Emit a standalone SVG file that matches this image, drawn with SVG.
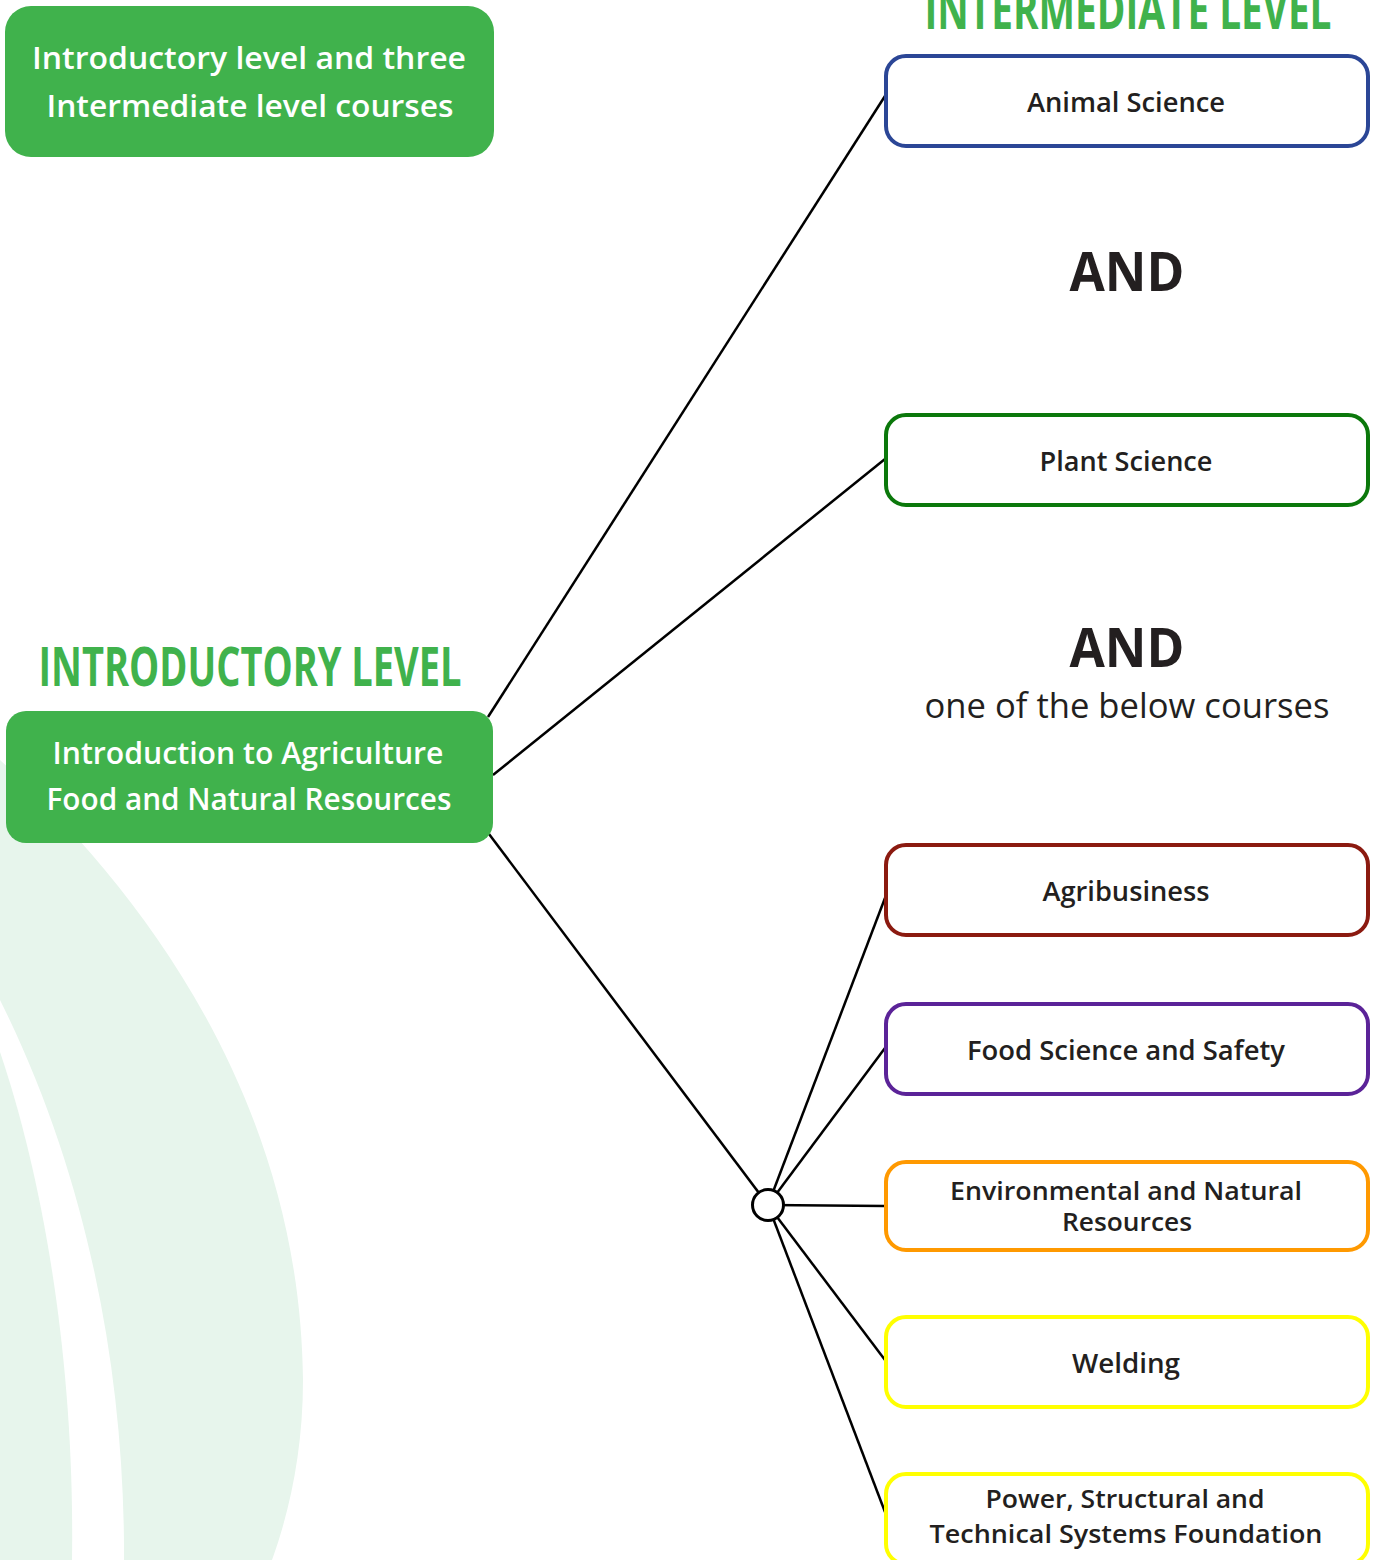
<svg xmlns="http://www.w3.org/2000/svg" width="1376" height="1560" viewBox="0 0 1376 1560">
  <style>
    .bg { fill: #e7f5ec; }
    .gbox { fill: #40b24c; }
    .wtxt { font-family: "Open Sans", "Noto Sans", sans-serif; font-weight: 600; fill: #ffffff; text-anchor: middle; }
    .head { font-family: "Open Sans", "Noto Sans", sans-serif; font-weight: 700; fill: #40b24c; text-anchor: middle; font-size: 54px; }
    .cbox { fill: #ffffff; stroke-width: 4; }
    .lbl { font-family: "Open Sans", "Noto Sans", sans-serif; font-weight: 600; fill: #231f20; text-anchor: middle; font-size: 27px; }
    .lbl2 { font-size: 25px; }
    .and { font-family: "Open Sans", "Noto Sans", sans-serif; font-weight: 700; fill: #231f20; text-anchor: middle; font-size: 54px; }
    .sub { font-family: "Open Sans", "Noto Sans", sans-serif; font-weight: 400; fill: #231f20; text-anchor: middle; font-size: 35px; }
    .conn line { stroke: #000000; stroke-width: 2.5; }
  </style>

  <g id="background">
    <path class="bg" d="M0,760 C120,870 300,1080 303,1380 C303,1450 290,1510 272,1560 L124,1560 C125,1380 90,1180 0,1000 Z"/>
    <path class="bg" d="M0,1052 C40,1170 75,1350 72,1560 L0,1560 Z"/>
  </g>

  <g id="connectors" class="conn">
    <line x1="488" y1="717" x2="885" y2="96"/>
    <line x1="493" y1="775" x2="885" y2="459"/>
    <line x1="489" y1="834" x2="768" y2="1205"/>
    <line x1="768" y1="1205" x2="885" y2="898"/>
    <line x1="768" y1="1205" x2="885" y2="1048"/>
    <line x1="768" y1="1205" x2="885" y2="1206"/>
    <line x1="768" y1="1205" x2="885" y2="1360"/>
    <line x1="768" y1="1205" x2="885" y2="1512"/>
  </g>

  <g id="junction">
    <circle cx="768" cy="1205" r="15.5" fill="#ffffff" stroke="#000000" stroke-width="3"/>
  </g>

  <g id="summary">
    <rect class="gbox" x="5" y="6" width="489" height="151" rx="26"/>
    <text class="wtxt" x="249" y="69" font-size="31" textLength="434" lengthAdjust="spacingAndGlyphs">Introductory level and three</text>
    <text class="wtxt" x="250" y="117" font-size="31" textLength="407" lengthAdjust="spacingAndGlyphs">Intermediate level courses</text>
  </g>

  <g id="intermediate-heading">
    <text class="head" x="1128" y="29" textLength="407" lengthAdjust="spacingAndGlyphs">INTERMEDIATE LEVEL</text>
  </g>

  <g id="introductory-heading">
    <text class="head" x="250" y="686" textLength="423" lengthAdjust="spacingAndGlyphs">INTRODUCTORY LEVEL</text>
  </g>

  <g id="intro-course">
    <rect class="gbox" x="6" y="711" width="487" height="132" rx="20"/>
    <text class="wtxt" x="248" y="764" font-size="30" textLength="391" lengthAdjust="spacingAndGlyphs">Introduction to Agriculture</text>
    <text class="wtxt" x="249" y="810" font-size="30" textLength="405" lengthAdjust="spacingAndGlyphs">Food and Natural Resources</text>
  </g>

  <g id="animal-science">
    <rect class="cbox" x="886" y="56" width="482" height="90" rx="20" stroke="#2b4696"/>
    <text class="lbl" x="1126" y="112" textLength="198" lengthAdjust="spacingAndGlyphs">Animal Science</text>
  </g>

  <g id="and-1">
    <text class="and" x="1127" y="291" textLength="115" lengthAdjust="spacingAndGlyphs">AND</text>
  </g>

  <g id="plant-science">
    <rect class="cbox" x="886" y="415" width="482" height="90" rx="20" stroke="#0b780b"/>
    <text class="lbl" x="1126" y="471" textLength="173" lengthAdjust="spacingAndGlyphs">Plant Science</text>
  </g>

  <g id="and-2">
    <text class="and" x="1127" y="667" textLength="115" lengthAdjust="spacingAndGlyphs">AND</text>
    <text class="sub" x="1127" y="718" textLength="405" lengthAdjust="spacingAndGlyphs">one of the below courses</text>
  </g>

  <g id="agribusiness">
    <rect class="cbox" x="886" y="845" width="482" height="90" rx="20" stroke="#8b1a10"/>
    <text class="lbl" x="1126" y="901" textLength="167" lengthAdjust="spacingAndGlyphs">Agribusiness</text>
  </g>

  <g id="food-science">
    <rect class="cbox" x="886" y="1004" width="482" height="90" rx="20" stroke="#5b2398"/>
    <text class="lbl" x="1126" y="1060" textLength="318" lengthAdjust="spacingAndGlyphs">Food Science and Safety</text>
  </g>

  <g id="environmental">
    <rect class="cbox" x="886" y="1162" width="482" height="88" rx="20" stroke="#ff9900"/>
    <text class="lbl lbl2" x="1126" y="1200" textLength="352" lengthAdjust="spacingAndGlyphs">Environmental and Natural</text>
    <text class="lbl lbl2" x="1127" y="1231" textLength="130" lengthAdjust="spacingAndGlyphs">Resources</text>
  </g>

  <g id="welding">
    <rect class="cbox" x="886" y="1317" width="482" height="90" rx="20" stroke="#ffff00"/>
    <text class="lbl" x="1126" y="1373" textLength="108" lengthAdjust="spacingAndGlyphs">Welding</text>
  </g>

  <g id="power-structural">
    <rect class="cbox" x="886" y="1474" width="482" height="90" rx="20" stroke="#ffff00"/>
    <text class="lbl lbl2" x="1125" y="1508" textLength="279" lengthAdjust="spacingAndGlyphs">Power, Structural and</text>
    <text class="lbl lbl2" x="1126" y="1543" textLength="393" lengthAdjust="spacingAndGlyphs">Technical Systems Foundation</text>
  </g>
</svg>
